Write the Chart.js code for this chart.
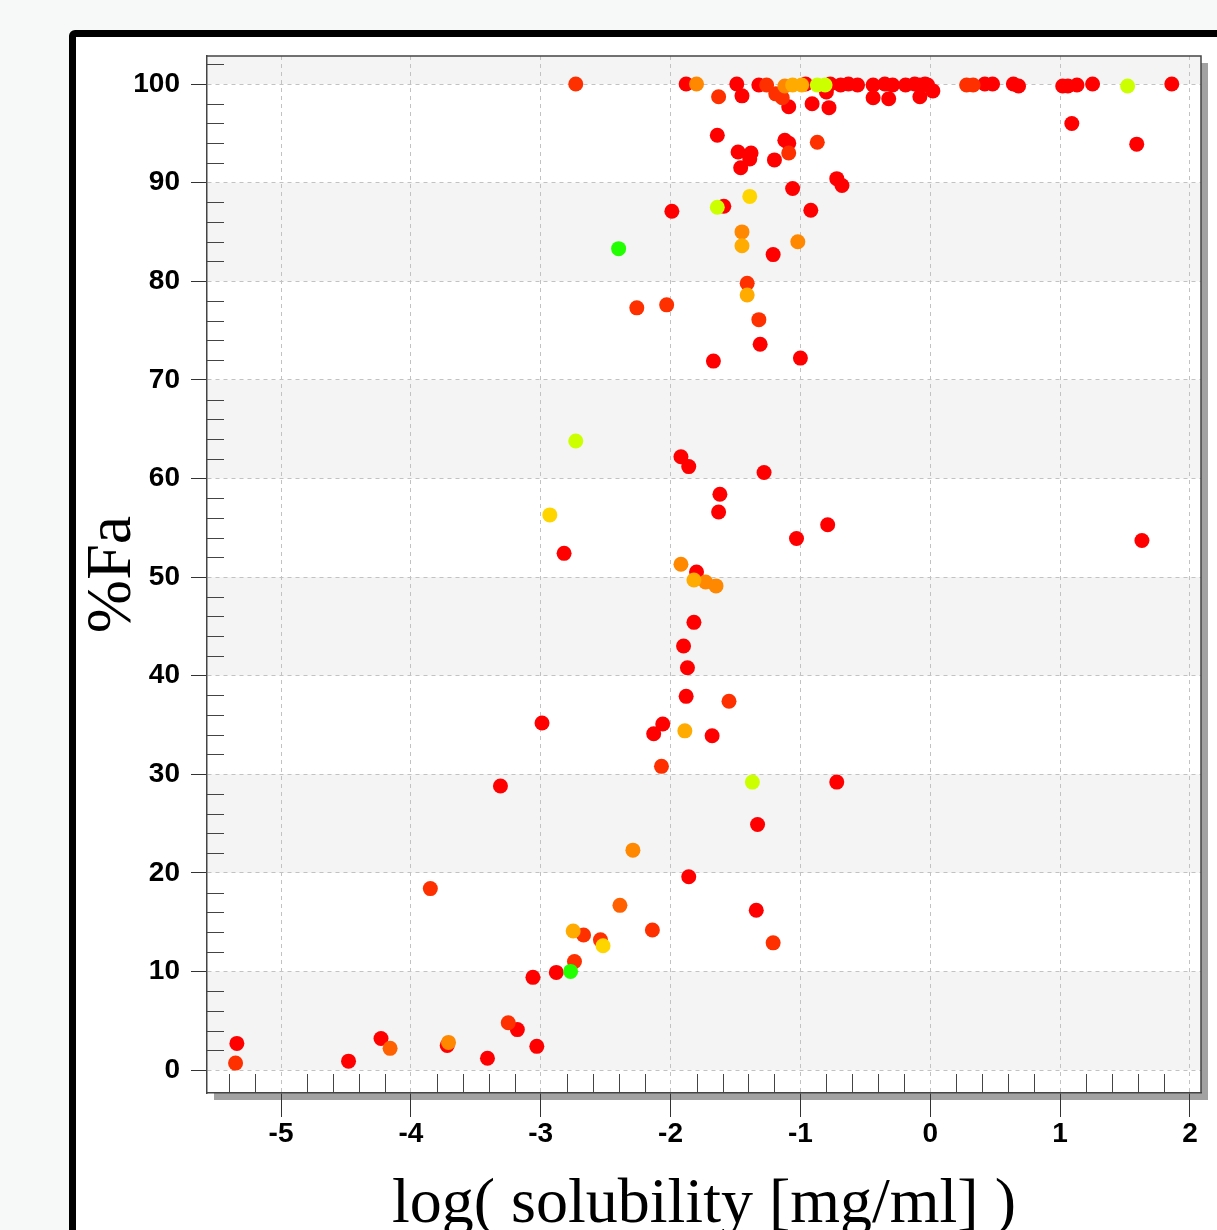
<!DOCTYPE html>
<html>
<head>
<meta charset="utf-8">
<style>
  html, body { margin: 0; padding: 0; background: #f7f9f9; overflow: hidden; }
  #frame { position: absolute; left: 69px; top: 30px; width: 1400px; height: 1400px;
           border: 7px solid #000; border-radius: 6px; background: #fff; }
  #myChart { position: absolute; left: 0; top: 0; }
</style>
<script src="https://cdn.jsdelivr.net/npm/chart.js@4"></script>
</head>
<body>
<div id="frame"></div>
<canvas id="myChart" width="1217" height="1230"></canvas>
<script>
// points grouped by marker colour (x = log solubility, y = %Fa)
const redX = [-1.88, -1.49, -1.32, -0.96, -0.77, -0.69, -0.63, -0.56, -0.44, -0.35, -0.29, -0.19, -0.12,
  -0.08, -0.04, -0.02, 0.42, 0.48, 0.64, 0.68, 1.02, 1.06, 1.13, 1.25, 1.86,
  -1.45, -1.09, -0.91, -0.80, -0.78, -0.44, -0.32, -0.08, 0.02, 1.09, 1.59,
  -1.64, -1.12, -1.09, -1.48, -1.38, -1.39, -1.46, -1.20, -1.06, -0.72, -0.68, -1.59, -1.99, -0.92,
  -1.21, -1.31, -1.67, -1.00,
  -1.92, -1.86, -1.28, -1.62, -1.63, -0.79, -1.03, 1.63, -2.82, -1.80, -1.82, -1.90, -1.87, -1.88,
  -2.99, -2.06, -2.13, -1.68, -0.72, -3.31, -1.33, -1.86, -1.34, -2.88, -3.06,
  -5.34, -4.48, -4.23, -3.41, -3.18, -3.03, -3.72];
const redY = [100, 100, 99.9, 100, 100, 99.9, 100, 99.9, 99.9, 100, 99.9, 99.9, 100,
  99.9, 100, 99.9, 100, 100, 100, 99.8, 99.8, 99.8, 99.9, 100, 100,
  98.8, 97.7, 98.0, 99.2, 97.6, 98.6, 98.5, 98.7, 99.3, 96.0, 93.9,
  94.8, 94.3, 94.0, 93.1, 93.0, 92.4, 91.5, 92.3, 89.4, 90.4, 89.7, 87.6, 87.1, 87.2,
  82.7, 73.6, 71.9, 72.2,
  62.2, 61.2, 60.6, 58.4, 56.6, 55.3, 53.9, 53.7, 52.4, 50.5, 45.4, 43.0, 40.8, 37.9,
  35.2, 35.1, 34.1, 33.9, 29.2, 28.8, 24.9, 19.6, 16.2, 9.9, 9.4,
  2.7, 0.9, 3.2, 1.2, 4.1, 2.4, 2.5];

const redOrangeX = [-2.73, -1.26, -1.63, -1.19, -1.14, 0.28, 0.33, -1.09, -0.87, -1.41,
  -2.26, -2.03, -1.32, -1.55, -2.07, -3.85, -2.14, -1.21, -2.67, -2.54, -2.74, -5.35, -3.25];
const redOrangeY = [100, 99.9, 98.7, 99.0, 98.6, 99.9, 99.9, 93.0, 94.1, 79.8,
  77.3, 77.6, 76.1, 37.4, 30.8, 18.4, 14.2, 12.9, 13.7, 13.2, 11.0, 0.7, 4.8];

const darkOrangeX = [-2.39, -4.16];
const darkOrangeY = [16.7, 2.2];

const orangeX = [-1.80, -1.12, -1.45, -1.02, -1.92, -1.73, -1.65, -2.29, -3.71];
const orangeY = [100, 99.8, 85.0, 84.0, 51.3, 49.5, 49.1, 22.3, 2.8];

const amberX = [-1.06, -0.99, -1.45, -1.41, -1.82, -1.89, -2.75];
const amberY = [99.9, 99.9, 83.6, 78.6, 49.7, 34.4, 14.1];

const yellowX = [-1.39, -2.93, -2.52];
const yellowY = [88.6, 56.3, 12.6];

const limeX = [-0.87, -0.81, 1.52, -1.64, -2.73, -1.37];
const limeY = [99.9, 99.9, 99.8, 87.5, 63.8, 29.2];

const greenX = [-2.40, -2.77];
const greenY = [83.3, 10.0];

function pts(xs, ys) {
  return xs.slice(0, Math.min(xs.length, ys.length)).map((v, i) => ({x: v, y: ys[i]}));
}

function group(xs, ys, color, order) {
  return {
    data: pts(xs, ys),
    backgroundColor: color,
    borderWidth: 0,
    pointRadius: 7.5,
    pointHoverRadius: 7.5,
    order: order,
  };
}

// bands, shadow, plot frame and minor ticks
const plotDecor = {
  id: 'plotDecor',
  beforeDraw(chart) {
    const {ctx, chartArea: a, scales: {y}} = chart;
    ctx.save();
    ctx.fillStyle = '#a2a2a2';
    ctx.fillRect(a.left + 7, a.bottom, a.right - a.left, 7);
    ctx.fillRect(a.right, a.top + 7, 7, a.bottom - a.top);
    ctx.fillStyle = '#ffffff';
    ctx.fillRect(a.left, a.top, a.right - a.left, a.bottom - a.top);
    ctx.fillStyle = '#f4f4f4';
    y.ticks.forEach(t => {
      if (Math.round(t.value / 10) % 2 !== 0) return;
      const top = y.getPixelForValue(Math.min(t.value + 10, y.max));
      const bot = y.getPixelForValue(t.value);
      ctx.fillRect(a.left, top, a.right - a.left, bot - top);
    });
    ctx.restore();
  },
  beforeDatasetsDraw(chart) {
    const {ctx, chartArea: a, scales: {x, y}} = chart;
    ctx.save();
    ctx.strokeStyle = '#444';
    ctx.lineWidth = 1;
    ctx.beginPath();
    for (let i = Math.ceil(x.min / 0.2); i * 0.2 <= x.max; i++) {
      if (i % 5 === 0) continue;
      const px = Math.round(x.getPixelForValue(i * 0.2)) + 0.5;
      ctx.moveTo(px, a.bottom);
      ctx.lineTo(px, a.bottom - 19);
    }
    for (let j = 1; j * 2 <= y.max; j++) {
      if (j % 5 === 0) continue;
      const py = Math.round(y.getPixelForValue(j * 2)) + 0.5;
      ctx.moveTo(a.left, py);
      ctx.lineTo(a.left + 17, py);
    }
    ctx.stroke();
    ctx.strokeStyle = '#444';
    ctx.lineWidth = 1.5;
    ctx.beginPath();
    ctx.moveTo(a.left, a.top);
    ctx.lineTo(a.right, a.top);
    ctx.lineTo(a.right, a.bottom);
    ctx.stroke();
    ctx.restore();
  }
};

const tickFont = {family: 'Liberation Sans', size: 28, weight: 'bold'};
const titleFont = {family: 'Liberation Serif', size: 64, weight: 'normal'};

const ctx = document.getElementById('myChart').getContext('2d');

const config = {
  type: 'scatter',
  data: {
    datasets: [
      group(greenX, greenY, '#22ff00', 1),
      group(limeX, limeY, '#ccff00', 2),
      group(yellowX, yellowY, '#ffd500', 3),
      group(amberX, amberY, '#ffab00', 4),
      group(orangeX, orangeY, '#ff8800', 5),
      group(darkOrangeX, darkOrangeY, '#ff6000', 6),
      group(redOrangeX, redOrangeY, '#ff3000', 7),
      group(redX, redY, '#ff0000', 8),
    ],
  },
  options: {
    responsive: false,
    animation: false,
    devicePixelRatio: 1,
    layout: { padding: { left: 0, top: 56, right: 16, bottom: 0 } },
    plugins: { legend: { display: false }, tooltip: { enabled: false } },
    scales: {
      x: {
        type: 'linear',
        min: -5.57,
        max: 2.085,
        afterFit(s) { s.height = 137; },
        ticks: { stepSize: 1, includeBounds: false, padding: 0, color: '#000', font: tickFont },
        grid: { color: '#c2c2c2', lineWidth: 1, tickLength: 24, tickColor: '#333', tickWidth: 1 },
        border: { color: '#444', width: 1.5, dash: [4, 4] },
        title: { display: true, text: 'log( solubility [mg/ml] )', color: '#000', font: titleFont,
                 padding: { top: 0, bottom: -14 } },
      },
      y: {
        type: 'linear',
        min: -2.33,
        max: 102.84,
        afterFit(s) { s.width = 207; },
        ticks: { stepSize: 10, includeBounds: false, padding: 11, color: '#000', font: tickFont },
        grid: { color: '#c2c2c2', lineWidth: 1, tickLength: 16, tickColor: '#333', tickWidth: 1 },
        border: { color: '#444', width: 1.5, dash: [4, 4] },
        title: { display: true, text: '%Fa', color: '#000', font: titleFont,
                 padding: { top: 75, bottom: 0 } },
      },
    },
  },
  plugins: [plotDecor],
};

const myChart = new Chart(ctx, config);
</script>
</body>
</html>
